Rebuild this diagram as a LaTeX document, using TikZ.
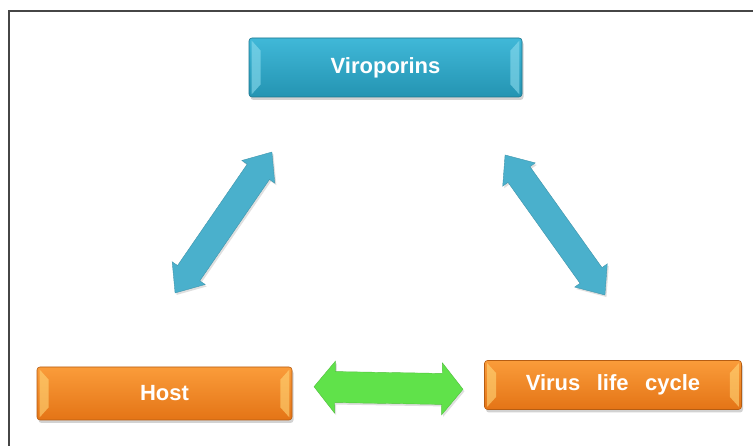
\documentclass[tikz,border=0pt]{standalone}
\usepackage{fontspec}
\setmainfont{Liberation Sans}
\usetikzlibrary{shadows,calc}
\definecolor{bluetop}{RGB}{64,184,216}
\definecolor{bluebot}{RGB}{36,148,178}
\definecolor{blueface}{RGB}{140,220,238}
\definecolor{orangetop}{RGB}{250,156,58}
\definecolor{orangebot}{RGB}{228,116,22}
\definecolor{orangeface}{RGB}{255,214,120}
\definecolor{arrowblue}{RGB}{74,176,204}
\definecolor{arrowgreen}{RGB}{96,226,74}
\definecolor{framegray}{RGB}{70,70,70}
\tikzset{
  x=1pt, y=1pt,
  bevelbox/.style={rectangle, rounded corners=3pt, draw=#1bot!80!black, line width=0.6pt,
    top color=#1top, bottom color=#1bot, text=white,
    font=\bfseries\fontsize{22}{24}\selectfont,
    drop shadow={opacity=0.35, shadow xshift=1.5pt, shadow yshift=-3pt}},
  facet/.style={fill=#1, opacity=0.6},
  boxlabel/.style={text=white, font=\bfseries\fontsize{22}{24}\selectfont},
  blockarrow/.style={fill=#1, draw=#1!85!black, line width=0.4pt,
    drop shadow={opacity=0.25, shadow xshift=1.5pt, shadow yshift=-2pt}},
  frameline/.style={draw=framegray, line width=1.2pt}
}
\newcommand{\bevelfacets}[2]{%
  \fill[facet=#2] ($(#1.north west)+(3,-3)$) -- ($(#1.north west)+(12,-13)$)
     -- ($(#1.south west)+(12,13)$) -- ($(#1.south west)+(3,3)$) -- cycle;
  \fill[facet=#2] ($(#1.north east)+(-3,-3)$) -- ($(#1.north east)+(-12,-13)$)
     -- ($(#1.south east)+(-12,13)$) -- ($(#1.south east)+(-3,3)$) -- cycle;
}
\newcommand{\dblarrow}[8]{% center, angle, L, H, W, S, color, name
  \begin{scope}[shift={#1}, rotate=#2]
    \fill[blockarrow=#7] (-#3,0) -- (-#3+#4,#5) -- (-#3+#4,#6) -- (#3-#4,#6) -- (#3-#4,#5)
      -- (#3,0) -- (#3-#4,-#5) -- (#3-#4,-#6) -- (-#3+#4,-#6) -- (-#3+#4,-#5) -- cycle;
    \coordinate (#8) at (0,0);
  \end{scope}
}
\begin{document}
\begin{tikzpicture}
\useasboundingbox (0,0) rectangle (753,446);
\fill[white] (0,0) rectangle (753,446);
% frame
\draw[frameline] (9,0) -- (9,435) -- (753,435);
% boxes
\node[bevelbox=blue, minimum width=273pt, minimum height=59pt] (vir) at (385.5,378.5) {};
\bevelfacets{vir}{blueface}
\node[boxlabel] (virlabel) at (vir) {Viroporins};
\node[bevelbox=orange, minimum width=255pt, minimum height=53pt] (host) at (164.5,52.5) {};
\bevelfacets{host}{orangeface}
\node[boxlabel] (hostlabel) at (host) {Host};
\node[bevelbox=orange, minimum width=257pt, minimum height=49pt] (cycle) at (613,61) {};
\bevelfacets{cycle}{orangeface}
\node[boxlabel] (cyclelabel) at (cycle) {Virus\hspace{0.75em}life\hspace{0.75em}cycle};
% arrows
\dblarrow{(223.5,223.5)}{55.5}{85.5}{24}{20}{13.5}{arrowblue}{leftarrow}
\dblarrow{(555,221)}{-54.5}{86}{24}{20}{13.5}{arrowblue}{rightarrow}
\dblarrow{(388.5,58)}{-1}{74.5}{21}{26}{15.5}{arrowgreen}{greenarrow}
\end{tikzpicture}
\end{document}
